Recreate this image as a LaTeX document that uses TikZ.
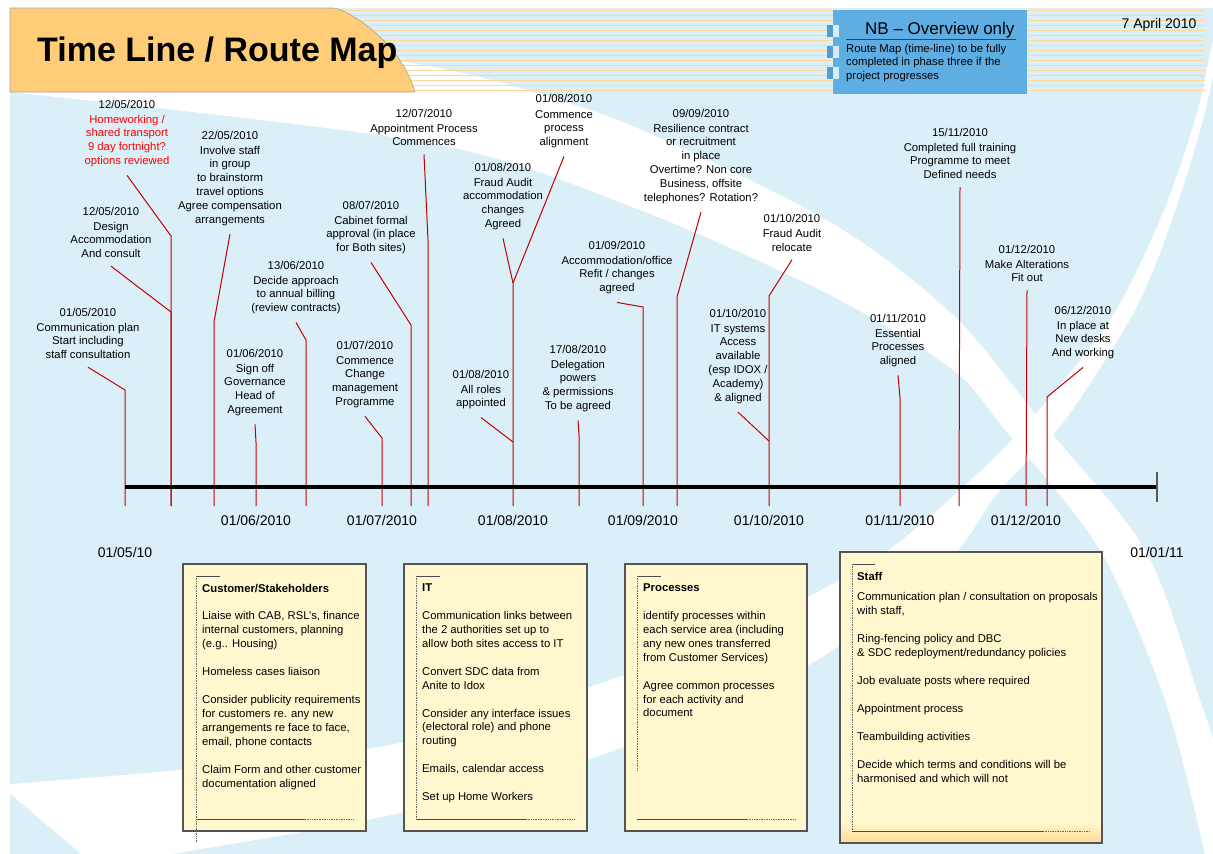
\documentclass[tikz,border=0pt]{standalone}
\usepackage{fontspec}
\setmainfont{Liberation Sans}
\usetikzlibrary{calc}
\definecolor{skyback}{RGB}{218,239,248}
\definecolor{headorange}{RGB}{255,204,119}
\definecolor{stripe}{RGB}{255,216,150}
\definecolor{nbblue}{RGB}{94,174,228}
\definecolor{nbpale}{RGB}{214,234,250}
\definecolor{notefill}{RGB}{255,248,206}
\definecolor{noteglow}{RGB}{255,218,150}
\definecolor{linkred}{RGB}{192,0,0}
\definecolor{boxedge}{RGB}{85,85,85}
\newcommand{\evfont}{\fontsize{11.3}{13.9}\selectfont}
\begin{document}
\begin{tikzpicture}[x=1pt,y=-1pt,
  conn/.style={draw=linkred, line width=1pt},
  evt/.style={anchor=north, align=center, inner sep=0pt, font=\evfont},
  datelbl/.style={inner sep=0pt, font=\fontsize{14}{16}\selectfont},
  notebox/.style={draw=boxedge, line width=1.2pt, fill=notefill},
  brk/.style={draw=black!70, line width=0.7pt},
  brkdot/.style={draw=black!60, line width=0.7pt, densely dotted},
  notetext/.style={anchor=north west, align=left, inner sep=0pt, font=\evfont}]
\useasboundingbox (0,0) rectangle (1213,854);

% ---------- background: sky panel with two white sweeping bands ----------
\begin{scope}
  \clip (10,8) rectangle (1213,854);
  \fill[skyback] (10,8) rectangle (1213,854);
  % band running from the header down to the lower right corner
  \fill[white] plot[smooth] coordinates {(380,58) (480,77) (630,125) (830,222) (953,315) (1040,420) (1145,550) (1200,700) (1230,790)}
    -- (1240,870)
    -- plot[smooth] coordinates {(1205,870) (1205,854) (1165,700) (1100,550) (1005,430) (953,370) (830,295) (640,210) (430,143) (10,92)}
    -- (0,58) -- cycle;
  % band rising from the lower left to the top right corner
  \fill[white] plot[smooth] coordinates {(0,785) (200,768) (400,743) (610,680) (750,625) (874,560) (960,490) (1030,420) (1110,320) (1160,220) (1195,120) (1213,40)}
    -- plot[smooth] coordinates {(1220,40) (1203,120) (1172,220) (1135,310) (1065,420) (1000,490) (940,570) (800,670) (610,752) (400,813) (173,854) (100,870)}
    -- cycle;
  % header stripes
  \foreach \k in {0,...,16}
    \draw[stripe, line width=0.9pt] (333,10+5*\k) -- (1205,10+5*\k);
\end{scope}

% ---------- header ----------
\draw[gray!70, line width=0.6pt, fill=headorange]
  (10,8) -- (333,8) .. controls (345,8) and (400,40) .. (415,92) -- (10,92) -- cycle;
\node[anchor=base west, inner sep=0pt, font=\bfseries\fontsize{34}{40}\selectfont] (title) at (37,61) {Time Line / Route Map};
\node[anchor=base, inner sep=0pt, font=\fontsize{14}{16}\selectfont] (issued) at (1159,28) {7 April 2010};

% NB panel
\fill[nbblue] (833,10) rectangle (1027,94);
\foreach \t in {25,46,67} {
  \fill[nbblue!90!black] (827,\t) rectangle (833,\t+12);
  \fill[nbpale] (833,\t) rectangle (839,\t+12);
}
\node[anchor=base west, inner sep=0pt, font=\fontsize{17}{20}\selectfont] (nbhead) at (865,34) {NB – Overview only};
\draw[black!75, line width=0.9pt] (846,39) -- (1016,39);
\node[notetext, font=\fontsize{11.3}{13.5}\selectfont] (nbnote) at (846,43.8) {Route Map (time-line) to be fully\\completed in phase three if the\\project progresses};

% ---------- event labels ----------
\node[evt] (e1) at (88,307.8) {01/05/2010\\[1pt]Communication plan\\Start including\\staff consultation};
\node[evt] (e2) at (111,206.8) {12/05/2010\\[1pt]Design\\Accommodation\\And consult};
\node[evt] (e3) at (127,99.8) {12/05/2010\\[1pt]\textcolor{red}{Homeworking /}\\\textcolor{red}{shared transport}\\\textcolor{red}{9 day fortnight?}\\\textcolor{red}{options reviewed}};
\node[evt] (e4) at (230,130.8) {22/05/2010\\[1pt]Involve staff\\in group\\to brainstorm\\travel options\\Agree compensation\\arrangements};
\node[evt] (e5) at (296,260.8) {13/06/2010\\[1pt]Decide approach\\to annual billing\\(review contracts)};
\node[evt] (e6) at (255,348.8) {01/06/2010\\[1pt]Sign off\\Governance\\Head of\\Agreement};
\node[evt] (e7) at (371,200.8) {08/07/2010\\[1pt]Cabinet formal\\approval (in place\\for Both sites)};
\node[evt] (e8) at (365,340.8) {01/07/2010\\[1pt]Commence\\Change\\management\\Programme};
\node[evt] (e9) at (424,108.8) {12/07/2010\\[1pt]Appointment Process\\Commences};
\node[evt] (e10) at (564,93.8) {01/08/2010\\[2pt]Commence\\process\\alignment};
\node[evt] (e11) at (503,162.8) {01/08/2010\\[1pt]Fraud Audit\\accommodation\\changes\\Agreed};
\node[evt] (e12) at (481,369.8) {01/08/2010\\[1pt]All roles\\appointed};
\node[evt] (e13) at (578,344.8) {17/08/2010\\[1pt]Delegation\\powers\\\& permissions\\To be agreed};
\node[evt] (e14) at (617,240.8) {01/09/2010\\[1pt]Accommodation/office\\Refit / changes\\agreed};
\node[evt] (e15) at (701,108.8) {09/09/2010\\[1pt]Resilience contract\\or recruitment\\in place\\Overtime? Non core\\Business, offsite\\telephones? Rotation?};
\node[evt] (e16) at (792,213.8) {01/10/2010\\[1.5pt]Fraud Audit\\relocate};
\node[evt] (e17) at (738,308.8) {01/10/2010\\[1pt]IT systems\\Access\\available\\(esp IDOX /\\Academy)\\\& aligned};
\node[evt] (e18) at (960,127.8) {15/11/2010\\[1pt]Completed full training\\Programme to meet\\Defined needs};
\node[evt] (e19) at (898,313.8) {01/11/2010\\[1pt]Essential\\Processes\\aligned};
\node[evt] (e20) at (1027,244.8) {01/12/2010\\[1pt]Make Alterations\\Fit out};
\node[evt] (e21) at (1083,305.8) {06/12/2010\\[1pt]In place at\\New desks\\And working};

% ---------- bends and tick ends on the time axis ----------
\coordinate (k1) at (125,390);  \coordinate (t1) at (125,506);
\coordinate (k2) at (171,312);  \coordinate (k3) at (171,236); \coordinate (t2) at (171,506);
\coordinate (k4) at (214,322);  \coordinate (t4) at (214,506);
\coordinate (k5) at (306,340);  \coordinate (t5) at (306,506);
\coordinate (k6) at (256,442);  \coordinate (t6) at (256,506);
\coordinate (k7) at (411,325);  \coordinate (t7) at (411,506);
\coordinate (k8) at (382,438);  \coordinate (t8) at (382,506);
\coordinate (k9) at (428,240);  \coordinate (t9) at (428,506);
\coordinate (k10) at (513,283); \coordinate (k12) at (513,442); \coordinate (t10) at (513,506);
\coordinate (k13) at (579,435); \coordinate (t13) at (579,506);
\coordinate (k14) at (643,307); \coordinate (t14) at (643,506);
\coordinate (k15) at (677,297); \coordinate (t15) at (677,506);
\coordinate (k16) at (769,296); \coordinate (k17) at (769,441); \coordinate (t16) at (769,506);
\coordinate (t18) at (959,506);
\coordinate (k19) at (900,398); \coordinate (t19) at (900,506);
\coordinate (t20) at (1026,506);
\coordinate (k21) at (1047,397); \coordinate (t21) at (1047,506);

% ---------- connectors ----------
\draw[conn] ([yshift=-8pt]e1.south) -- (k1) -- (t1);
\draw[conn] ([yshift=-8pt]e2.south) -- (k2) -- (t2);
\draw[conn] ([yshift=-8pt]e3.south) -- (k3) -- (t2);
\draw[conn] ([yshift=-8pt]e4.south) -- (k4) -- (t4);
\draw[conn] ([yshift=-8pt]e5.south) -- (k5) -- (t5);
\draw[conn] ([yshift=-8pt]e6.south) -- (k6) -- (t6);
\draw[conn] ([yshift=-8pt]e7.south) -- (k7) -- (t7);
\draw[conn] ([yshift=-8pt]e8.south) -- (k8) -- (t8);
\draw[conn] ([yshift=-8pt]e9.south) -- (k9) -- (t9);
\draw[conn] ([yshift=-8pt]e10.south) -- (k10) -- (t10);
\draw[conn] ([yshift=-8pt]e11.south) -- (k10);
\draw[conn] ([yshift=-8pt]e12.south) -- (k12);
\draw[conn] ([yshift=-8pt]e13.south) -- (k13) -- (t13);
\draw[conn] ([yshift=-8pt]e14.south) -- (k14) -- (t14);
\draw[conn] ([yshift=-8pt]e15.south) -- (k15) -- (t15);
\draw[conn] ([yshift=-8pt]e16.south) -- (k16) -- (t16);
\draw[conn] ([yshift=-8pt]e17.south) -- (k17);
\draw[conn] ([yshift=-8pt]e18.south) -- (t18);
\draw[conn] ([yshift=-8pt]e19.south) -- (k19) -- (t19);
\draw[conn] ([yshift=-8pt]e20.south) -- (t20);
\draw[conn] ([yshift=-8pt]e21.south) -- (k21) -- (t21);

% ---------- time axis ----------
\coordinate (axisstart) at (125,487);
\coordinate (axisend) at (1157,487);
\draw[black, line width=4.5pt] (axisstart) -- (axisend);
\draw[black!65, line width=1.5pt] ([yshift=15pt]axisend) -- ([yshift=-15pt]axisend);

\node[datelbl] (m6) at (256,520) {01/06/2010};
\node[datelbl] (m7) at (382,520) {01/07/2010};
\node[datelbl] (m8) at (513,520) {01/08/2010};
\node[datelbl] (m9) at (643,520) {01/09/2010};
\node[datelbl] (m10) at (769,520) {01/10/2010};
\node[datelbl] (m11) at (900,520) {01/11/2010};
\node[datelbl] (m12) at (1026,520) {01/12/2010};
\node[datelbl] (first) at (125,552) {01/05/10};
\node[datelbl] (last) at (1157,552) {01/01/11};

% ---------- workstream notes ----------
% Customer/Stakeholders
\draw[notebox] (183,564) rectangle (366,831);
\draw[brk] (220,576) -- (196,576);
\draw[brkdot] (196,576) -- (196,842);
\draw[brk] (196,819) -- (305,819);
\draw[brkdot] (305,819) -- (353,819);
\node[notetext] (customers) at (202,583.7) {\textbf{Customer/Stakeholders}\\[14pt]
Liaise with CAB, RSL’s, finance\\internal customers, planning\\(e.g.. Housing)\\[14pt]
Homeless cases liaison\\[14pt]
Consider publicity requirements\\for customers re. any new\\arrangements re face to face,\\email, phone contacts\\[14pt]
Claim Form and other customer\\documentation aligned};

% IT
\draw[notebox] (404,564) rectangle (587,831);
\draw[brk] (440,576) -- (416,576);
\draw[brkdot] (416,576) -- (416,819);
\draw[brk] (416,819) -- (526,819);
\draw[brkdot] (526,819) -- (574,819);
\node[notetext] (itnote) at (422,583.7) {\textbf{IT}\\[14pt]
Communication links between\\the 2 authorities set up to\\allow both sites access to IT\\[14pt]
Convert SDC data from\\Anite to Idox\\[14pt]
Consider any interface issues\\(electoral role) and phone\\routing\\[14pt]
Emails, calendar access\\[14pt]
Set up Home Workers};

% Processes
\draw[notebox] (625,564) rectangle (807,831);
\draw[brk] (661,576) -- (637,576);
\draw[brkdot] (637,576) -- (637,770);
\draw[brk] (637,819) -- (747,819);
\draw[brkdot] (747,819) -- (795,819);
\node[notetext] (procnote) at (643,583.7) {\textbf{Processes}\\[14pt]
identify processes within\\each service area (including\\any new ones transferred\\from Customer Services)\\[14pt]
Agree common processes\\for each activity and\\document};

% Staff
\fill[notefill] (840,552) rectangle (1102,843);
\shade[top color=notefill, bottom color=noteglow] (840,822) rectangle (1102,843);
\draw[boxedge, line width=1.2pt] (840,552) rectangle (1102,843);
\draw[brk] (875,564) -- (852,564);
\draw[brkdot] (852,564) -- (852,831);
\draw[brk] (852,831) -- (1043,831);
\draw[brkdot] (1043,831) -- (1090,831);
\node[notetext] (staffnote) at (857,571.7) {\textbf{Staff}\\[7pt]
Communication plan / consultation on proposals\\with staff,\\[14pt]
Ring-fencing policy and DBC\\\& SDC redeployment/redundancy policies\\[14pt]
Job evaluate posts where required\\[14pt]
Appointment process\\[14pt]
Teambuilding activities\\[14pt]
Decide which terms and conditions will be\\harmonised and which will not};
\end{tikzpicture}
\end{document}
